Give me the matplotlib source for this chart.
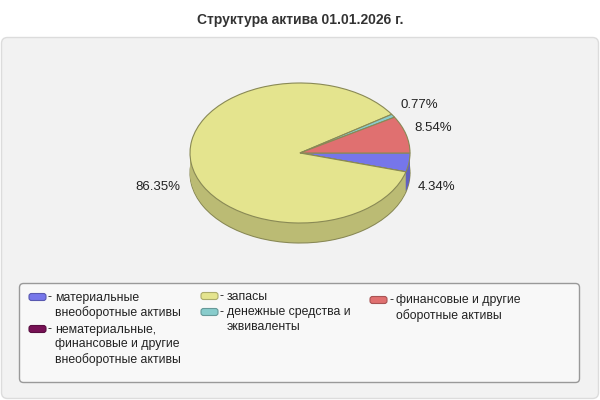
import matplotlib.pyplot as plt
from matplotlib.patches import FancyBboxPatch
from matplotlib.colors import to_rgb

plt.rcParams['font.family'] = ['Liberation Sans', 'DejaVu Sans']

title = "Структура актива 01.01.2026 г."
labels = ["материальные\nвнеоборотные активы",
          "нематериальные,\nфинансовые и другие\nвнеоборотные активы",
          "запасы",
          "денежные средства и\nэквиваленты",
          "финансовые и другие\nоборотные активы"]
shares = [4.34, 0.0, 86.35, 0.77, 8.54]
colors = ['#7676ea', '#771155', '#e4e48e', '#88cccc', '#e07070']

# text positions of the percent labels (pixels, from top-left)
pct_pos = {0: (437, 187), 2: (158, 187), 3: (419, 105), 4: (433, 128)}
# legend layout (pixels): swatch left, line centre
leg_pos = [(29, 297), (29, 329), (201, 296), (201, 312), (370, 300)]


def shade(c, f):
    r, g, b = to_rgb(c)
    return (r * f, g * f, b * f)


fig = plt.figure(figsize=(6, 4), dpi=100)
fig.patch.set_facecolor('white')

# background panel
bg = fig.add_axes([0, 0, 1, 1], zorder=0)
bg.set_xlim(0, 600)
bg.set_ylim(400, 0)
bg.axis('off')
bg.add_patch(FancyBboxPatch((1.5, 37.5), 597, 361, boxstyle="round,pad=0,rounding_size=6",
                            fc='#f2f2f2', ec='#dcdcdc', lw=1))
bg.text(300, 20, title, ha='center', va='center', fontsize=10, fontweight='bold', color='#333333')

# pie: center (300,153) px, rx 110, ry 70, depth 20
cx, cy, rx, ry, depth = 300, 153, 110, 70, 20
ax = fig.add_axes([0, 0, 1, 1], zorder=1)
ax.patch.set_alpha(0)

for i in range(depth, 0, -1):
    ax.pie(shares, colors=[shade(c, 0.82) for c in colors], startangle=0, counterclock=False,
           center=(0, -i / ry), radius=1,
           wedgeprops=dict(linewidth=0.8 if i == depth else 0,
                           edgecolor=shade(colors[2], 0.6)))
ax.pie(shares, colors=colors, startangle=0, counterclock=False, center=(0, 0), radius=1,
       wedgeprops=dict(linewidth=0.8, edgecolor=shade(colors[2], 0.6)))
ax.set_aspect('auto')
ax.set_xlim(-cx / rx, (600 - cx) / rx)
ax.set_ylim(-(400 - cy) / ry, cy / ry)
ax.axis('off')

# overlay for labels and legend
fg = fig.add_axes([0, 0, 1, 1], zorder=2)
fg.patch.set_alpha(0)
fg.set_xlim(0, 600)
fg.set_ylim(400, 0)
fg.axis('off')

for i, (x, y) in pct_pos.items():
    fg.text(x, y, f"{shares[i]:.2f}%", ha='center', va='center', fontsize=9.5, color='#222222')

fg.add_patch(FancyBboxPatch((19.5, 283.5), 560, 99, boxstyle="round,pad=0,rounding_size=4",
                            fc='#f8f8f8', ec='#999999', lw=1))
for (x, y), lab, c in zip(leg_pos, labels, colors):
    fg.add_patch(FancyBboxPatch((x, y - 3.5), 17, 7, boxstyle="round,pad=0,rounding_size=2.5",
                                fc=c, ec=shade(c, 0.75), lw=0.8))
    fg.text(x + 19, y, "-", ha='left', va='center', fontsize=8.8, color='#222222')
    fg.text(x + 26, y - 5.5, lab, ha='left', va='top', fontsize=8.8, color='#222222', linespacing=1.3)

fig.savefig('out.png', dpi=100)
